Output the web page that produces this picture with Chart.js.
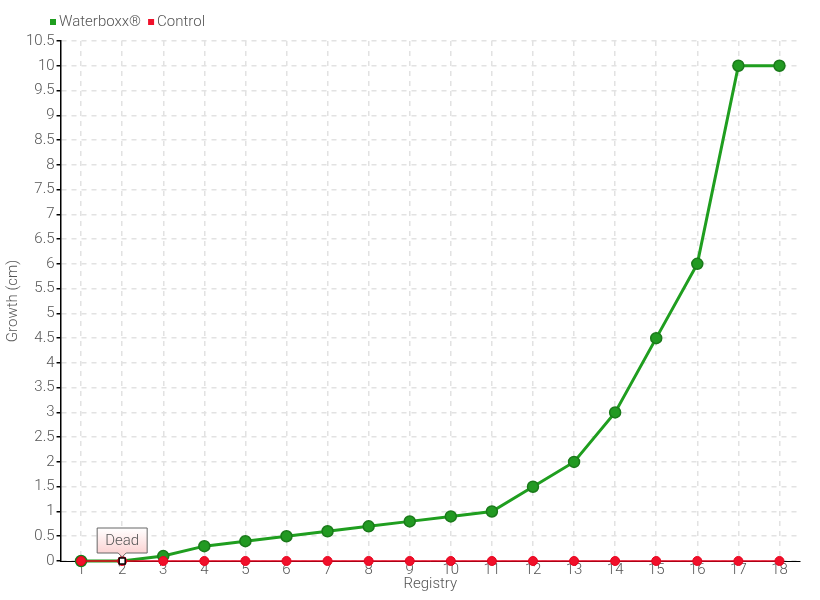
<!DOCTYPE html>
<html><head><meta charset="utf-8">
<script src="https://cdn.jsdelivr.net/npm/chart.js@4"></script>
<style>html,body{margin:0;padding:0;background:#fff}#wrap{width:820px;height:600px}</style>
</head><body><div id="wrap"><canvas id="c" width="820" height="600"></canvas></div>
<script>
const categories = ["1","2","3","4","5","6","7","8","9","10","11","12","13","14","15","16","17","18"];
const waterboxx = [0,0,0.1,0.3,0.4,0.5,0.6,0.7,0.8,0.9,1.0,1.5,2,3,4.5,6,10,10];
const control = [0,0,0,0,0,0,0,0,0,0,0,0,0,0,0,0,0,0];
const annotationIndex = 1;
const annotationText = "Dead";

const FONT = "Roboto, 'Open Sans', sans-serif";
const FSIZE = 15;
const FW = 300;

const wbRadius = waterboxx.map((v,i)=> i===annotationIndex ? 0 : 5.5);

const annot = {
  id:'annot',
  afterDatasetsDraw(chart){
    const ctx = chart.ctx;
    const x = chart.scales.x.getPixelForValue(annotationIndex);
    const y = chart.scales.y.getPixelForValue(waterboxx[annotationIndex]);
    ctx.save();
    // marker
    ctx.fillStyle = '#fff'; ctx.strokeStyle = '#000'; ctx.lineWidth = 1.5;
    ctx.fillRect(x-3, y-3, 6, 6); ctx.strokeRect(x-3, y-3, 6, 6);
    const w = 50, h = 25, top = y - 33;
    const left = x - 25;
    const g = ctx.createLinearGradient(0, top, 0, top+h);
    g.addColorStop(0,'#ffffff'); g.addColorStop(1,'#fbd3d3');
    ctx.beginPath();
    ctx.moveTo(left, top);
    ctx.lineTo(left+w, top);
    ctx.lineTo(left+w, top+h);
    ctx.lineTo(x+4, top+h);
    ctx.lineTo(x, top+h+4);
    ctx.lineTo(x-4, top+h);
    ctx.lineTo(left, top+h);
    ctx.closePath();
    ctx.fillStyle = g; ctx.fill();
    ctx.strokeStyle = '#666'; ctx.lineWidth = 1; ctx.stroke();
    ctx.fillStyle = '#555';
    ctx.font = FW + " " + FSIZE + "px " + FONT;
    ctx.textAlign='center'; ctx.textBaseline='middle';
    ctx.fillText(annotationText, x, top + h/2 + 1);
    ctx.restore();
  }
};

const customLegend = {
  id:'customLegend',
  afterDraw(chart){
    const ctx = chart.ctx;
    ctx.save();
    ctx.font = FW + " " + FSIZE + "px " + FONT;
    ctx.textBaseline='middle'; ctx.textAlign='left';
    let x = 50; const y = 22;
    chart.data.datasets.forEach(d=>{
      ctx.fillStyle = d.backgroundColor;
      ctx.fillRect(x, y-3, 6, 6);
      x += 9;
      ctx.fillStyle = '#555';
      ctx.fillText(d.label, x, y);
      x += ctx.measureText(d.label).width + 7;
    });
    ctx.restore();
  }
};

new Chart(document.getElementById('c'), {
  type:'line',
  data:{
    labels: categories,
    datasets:[
      {label:'Waterboxx®', data: waterboxx, borderColor:'#1f9e1f', borderWidth:3,
       pointRadius: wbRadius, pointBackgroundColor:'#229a22',
       pointBorderColor:'#1a7a1a', pointBorderWidth:1.5, backgroundColor:'#1f9e1f', tension:0, order:2, clip:false},
      {label:'Control', data: control, borderColor:'#e8001c', borderWidth:1.5,
       pointRadius:4.5, pointBackgroundColor:'#f0102a', pointBorderColor:'#e8001c',
       pointBorderWidth:1, backgroundColor:'#f0102a', tension:0, order:1, clip:false}
    ]
  },
  options:{
    responsive:false, animation:false,
    layout:{padding:{left:4,right:20,top:41,bottom:7}},
    plugins:{
      legend:{display:false},
      tooltip:{enabled:false}
    },
    scales:{
      x:{offset:true,
        grid:{color:'#e2e2e2', lineWidth:1.5, drawTicks:false},
        border:{display:true, color:'#000', width:1, dash:[5,5]},
        ticks:{color:'#555', font:{family:FONT, size:FSIZE, weight:FW}, padding:0},
        title:{display:true, text:'Registry', color:'#555', font:{family:FONT, size:FSIZE, weight:FW}, padding:{top:-4,bottom:0}}
      },
      y:{min:0, max:10.5,
        grid:{color:'#e2e2e2', lineWidth:1.5, tickLength:4, tickColor:'#000', drawTicks:true},
        border:{display:true, color:'#000', width:1.5, dash:[5,5]},
        ticks:{stepSize:0.5, color:'#555', font:{family:FONT, size:FSIZE, weight:FW}, padding:2, autoSkip:false,
          callback:(v)=>String(v)},
        title:{display:true, text:'Growth (cm)', color:'#555', font:{family:FONT, size:FSIZE, weight:FW}, padding:{top:0,bottom:2}}
      }
    }
  },
  plugins:[annot, customLegend]
});
</script></body></html>
